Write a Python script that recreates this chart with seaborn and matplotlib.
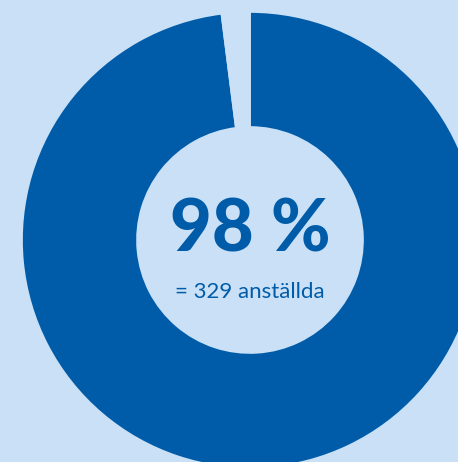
import matplotlib
matplotlib.use("Agg")
import matplotlib.pyplot as plt
import seaborn as sns

labels = ["anställda", "övriga"]
values = [98, 2]
big_label = "98 %"
sub_label = "= 329 anställda"

bg = "#c9e0f6"
blue = "#005ca9"

sns.set_theme(style="white")
plt.rcParams['font.family'] = ['Lato', 'DejaVu Sans']

W, H = 458, 462
fig = plt.figure(figsize=(W / 100, H / 100), dpi=100, facecolor=bg)
ax = fig.add_axes([0, 0, 1, 1])
ax.set_facecolor(bg)

cx, cy = 250, H - 240
R = 228
ax.pie(values, colors=[blue, bg], startangle=90, counterclock=False,
       radius=R, center=(cx, cy), frame=True,
       wedgeprops=dict(width=R - 113, linewidth=1.2, edgecolor=bg))
ax.set_xlim(0, W)
ax.set_ylim(0, H)
ax.set_aspect("equal")
ax.axis("off")

ax.text(cx, H - 231, big_label, ha="center", va="center", fontsize=52,
        fontweight="black", color=blue)
ax.text(cx, H - 292, sub_label, ha="center", va="center", fontsize=16,
        color=blue)

fig.savefig("out.png", dpi=100, facecolor=bg)
